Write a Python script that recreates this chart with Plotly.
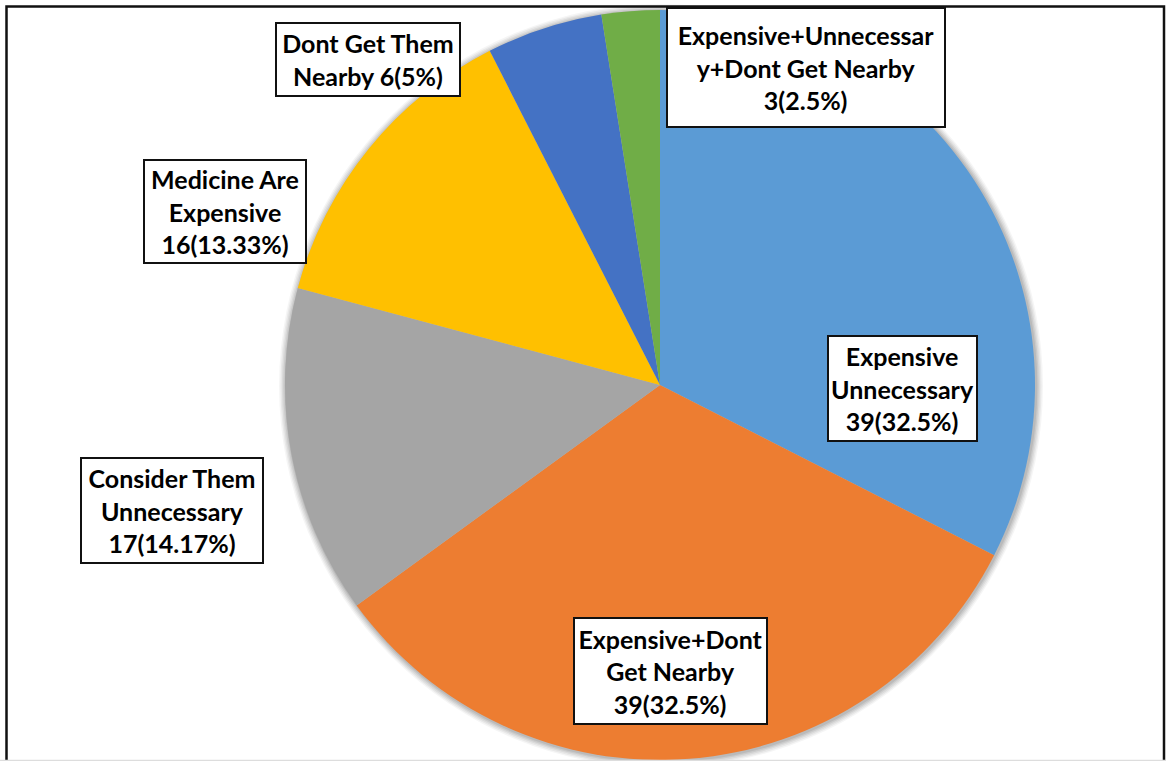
import plotly.graph_objects as go

# Reasons for not buying medicines (n = 120)
categories = [
    "Expensive Unnecessary",
    "Expensive+Dont Get Nearby",
    "Consider Them Unnecessary",
    "Medicine Are Expensive",
    "Dont Get Them Nearby",
    "Expensive+Unnecessary+Dont Get Nearby",
]
counts = [39, 39, 17, 16, 6, 3]
percent_labels = ["32.5%", "32.5%", "14.17%", "13.33%", "5%", "2.5%"]
# label text split into lines as printed in each callout box
label_lines = [
    ["Expensive", "Unnecessary"],
    ["Expensive+Dont", "Get Nearby"],
    ["Consider Them", "Unnecessary"],
    ["Medicine Are", "Expensive"],
    ["Dont Get Them", "Nearby {n}({p})"],
    ["Expensive+Unnecessar", "y+Dont Get Nearby"],
]
colors = ["#5B9BD5", "#ED7D31", "#A5A5A5", "#FFC000", "#4472C4", "#70AD47"]

W, H = 1166, 761
cx, cy, r = 660, 385, 375  # pie centre / radius in pixels

dom_x = [(cx - r) / W, (cx + r) / W]
dom_y = [(H - cy - r) / H, (H - cy + r) / H]

fig = go.Figure(
    go.Pie(
        labels=categories,
        values=counts,
        sort=False,
        direction="clockwise",
        rotation=0,
        marker=dict(colors=colors, line=dict(width=0)),
        textinfo="none",
        hoverinfo="label+value+percent",
        domain=dict(x=dom_x, y=dom_y),
        showlegend=False,
    )
)

# soft glow-like shadow around the pie
shapes = []
for i, a in enumerate([0.04, 0.05, 0.06, 0.07, 0.08]):
    grow = 7 - i * 1.4
    ox, oy = 1, 1
    shapes.append(dict(
        type="circle", xref="paper", yref="paper", layer="below",
        x0=(cx - r - grow + ox) / W, x1=(cx + r + grow + ox) / W,
        y0=(H - cy - r - grow - oy) / H, y1=(H - cy + r + grow - oy) / H,
        fillcolor=f"rgba(0,0,0,{a})", line=dict(width=0),
    ))

# outer frame
shapes.append(dict(type="rect", xref="paper", yref="paper",
                   x0=6.5 / W, x1=1164 / W, y0=-0.02, y1=1 - 6.5 / H,
                   line=dict(color="#111111", width=2.5)))
shapes.append(dict(type="line", xref="paper", yref="paper",
                   x0=0, x1=1, y0=0.5 / H, y1=0.5 / H,
                   line=dict(color="#DDDDDD", width=1.5)))

# callout boxes: (centre x, centre y, width, height) in pixels
boxes = [
    (902, 388, 150, 106),
    (670, 671, 194, 107),
    (172, 511, 183, 106),
    (225, 212, 163, 104),
    (368, 59, 185, 74),
    (806, 68, 279, 120),
]

annotations = []
for i, (bx, by, bw, bh) in enumerate(boxes):
    lines = [ln.format(n=counts[i], p=percent_labels[i]) for ln in label_lines[i]]
    if "{n}" not in label_lines[i][-1]:
        lines.append(f"{counts[i]}({percent_labels[i]})")
    annotations.append(dict(
        text="<b>" + "<br>".join(lines) + "</b>",
        xref="paper", yref="paper",
        x=bx / W, y=1 - by / H, xanchor="center", yanchor="middle",
        showarrow=False, align="center", valign="middle",
        width=bw - 3, height=bh - 3,
        bgcolor="white", bordercolor="#111111", borderwidth=2, borderpad=0,
        font=dict(family="Lato, Open Sans, sans-serif", size=25, color="#000000"),
    ))

fig.update_layout(
    width=W, height=H,
    margin=dict(l=0, r=0, t=0, b=0),
    paper_bgcolor="white",
    plot_bgcolor="white",
    shapes=shapes,
    annotations=annotations,
)

fig.write_html("out.html")
